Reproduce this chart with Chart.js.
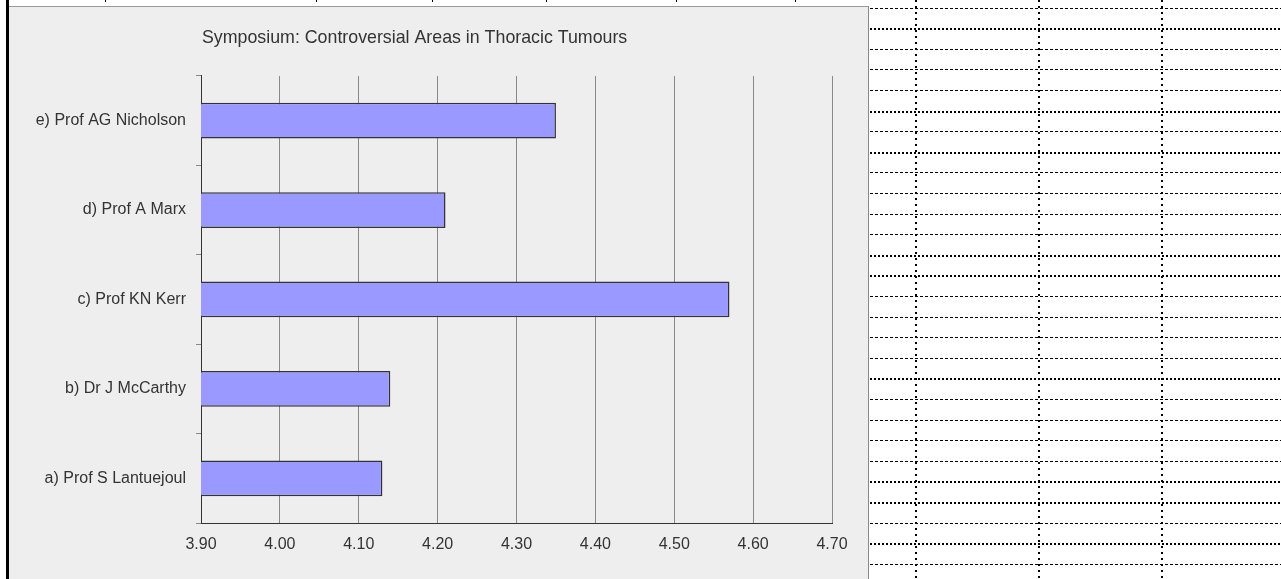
<!DOCTYPE html>
<html>
<head>
<meta charset="utf-8">
<script src="https://cdn.jsdelivr.net/npm/chart.js@4/dist/chart.umd.min.js"></script>
<style>
  html, body { margin: 0; padding: 0; background: #fff; width: 1281px; height: 579px; overflow: hidden; position: relative; }
  #leftbar { position: absolute; left: 6px; top: 0; width: 3px; height: 579px; background: #000; }
  #panel { position: absolute; left: 9px; top: 6px; width: 860px; height: 573px; background: #eeeeee;
           border-top: 1px solid #999; border-right: 1px solid #888; box-sizing: border-box; }
  #chart { position: absolute; left: 9px; top: 7px; }
  .hl { position: absolute; left: 870px; width: 411px; }
  .thin { height: 1px; background: repeating-linear-gradient(to right, #000 0 3px, transparent 3px 5px); }
  .thick { height: 2px; background: repeating-linear-gradient(to right, #000 0 2px, transparent 2px 4px); }
  .vl { position: absolute; top: 0; width: 2px; height: 579px; background: repeating-linear-gradient(to bottom, #000 0 2px, transparent 2px 6px); }
  .tm { position: absolute; top: 0; width: 1px; height: 2px; background: #000; }
</style>
</head>
<body>
<div id="leftbar"></div>
<div id="panel"></div>
<canvas id="chart" width="858" height="572"></canvas>
<div id="sheet"></div>
<script>
// ---- data ----
const categories = ['e) Prof AG Nicholson', 'd) Prof A Marx', 'c) Prof KN Kerr', 'b) Dr J McCarthy', 'a) Prof S Lantuejoul'];
const scores = [4.35, 4.21, 4.57, 4.14, 4.13];
const xTickValues = [3.90, 4.00, 4.10, 4.20, 4.30, 4.40, 4.50, 4.60, 4.70];
const titleText = 'Symposium: Controversial Areas in Thoracic Tumours';

// ---- spreadsheet decoration on the right ----
(function () {
  const sheet = document.getElementById('sheet');
  const styles = ['thin','thick','thin','thin','thin','thick','thin','thick','thin','thin','thin','thin','thick','thick','thin','thin','thin','thin','thick','thin','thin','thin','thin','thick','thick','thin','thick','thin'];
  for (let k = 0; k < 28; k++) {
    const d = document.createElement('div');
    d.className = 'hl ' + styles[k % styles.length];
    d.style.top = Math.round(7.5 + 20.6 * k) + 'px';
    sheet.appendChild(d);
  }
  [915, 1038, 1161].forEach(x => {
    const d = document.createElement('div');
    d.className = 'vl'; d.style.left = x + 'px';
    sheet.appendChild(d);
  });
  [105, 316, 432, 546, 676, 795].forEach(x => {
    const d = document.createElement('div');
    d.className = 'tm'; d.style.left = x + 'px';
    sheet.appendChild(d);
  });
})();

const FONT = '"Liberation Sans", Arial, sans-serif';

const titleLeftPlugin = {
  id: 'titleLeft',
  afterLayout(chart) {
    if (chart.titleBlock) chart.titleBlock.left = chart.chartArea.left + 1;
  }
};

new Chart(document.getElementById('chart'), {
  type: 'bar',
  data: {
    labels: categories,
    datasets: [{
      data: scores,
      backgroundColor: '#9999ff',
      borderColor: '#333333',
      borderWidth: 1.5,
      borderSkipped: false,
      categoryPercentage: 1.0,
      barPercentage: 0.4
    }]
  },
  plugins: [titleLeftPlugin],
  options: {
    indexAxis: 'y',
    responsive: false,
    animation: false,
    devicePixelRatio: 1,
    layout: { padding: { left: 0, right: 35, top: 0, bottom: 0 } },
    plugins: {
      legend: { display: false },
      tooltip: { enabled: false },
      title: {
        display: true,
        text: titleText,
        align: 'start',
        color: '#333333',
        font: { family: FONT, size: 17.8, weight: 'normal' },
        padding: { top: 20, bottom: 27.6 }
      }
    },
    scales: {
      x: {
        type: 'linear',
        min: 3.9,
        max: 4.7,
        afterBuildTicks: (axis) => { axis.ticks = xTickValues.map(v => ({ value: v })); },
        afterFit: (s) => { s.height = 56; },
        ticks: {
          color: '#333333',
          font: { family: FONT, size: 16 },
          padding: 12,
          autoSkip: false,
          maxRotation: 0,
          callback: (v) => Number(v).toFixed(2)
        },
        grid: { display: true, color: '#888888', lineWidth: 1, drawTicks: false, drawOnChartArea: true },
        border: { display: true, color: '#333333', width: 1 }
      },
      y: {
        afterFit: (s) => { s.width = 192; },
        ticks: {
          color: '#333333',
          font: { family: FONT, size: 16 },
          padding: 10
        },
        grid: { display: true, offset: true, drawOnChartArea: false, drawTicks: true, tickLength: 5, color: '#888888' },
        border: { display: true, color: '#333333', width: 1 }
      }
    }
  }
});
</script>
</body>
</html>
